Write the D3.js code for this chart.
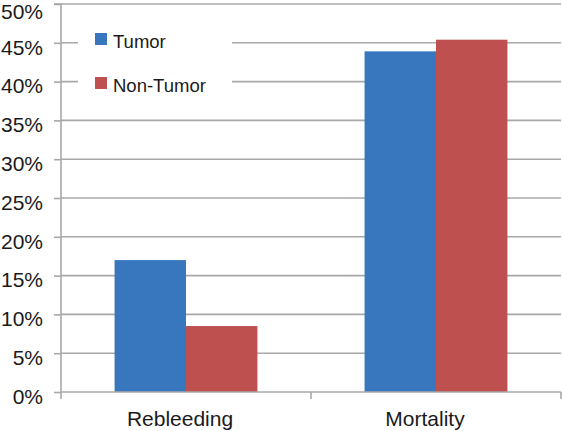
<!DOCTYPE html>
<html><head><meta charset="utf-8">
<script src="https://cdn.jsdelivr.net/npm/d3@7"></script>
<style>html,body{margin:0;padding:0;background:#fff;}</style>
</head><body>
<svg id="c" width="562" height="431"></svg>
<script>
const categories = ["Rebleeding", "Mortality"];
const seriesNames = ["Tumor", "Non-Tumor"];
const tumorValues = [17.0, 43.9];
const nonTumorValues = [8.5, 45.4];
const yTicks = [0, 5, 10, 15, 20, 25, 30, 35, 40, 45, 50];
const colors = ["#3877be", "#be514f"];

(function () {
const svg = d3.select("#c");
const pl = 61, pr = 561, pt = 4, pb = 392;
const font = "Liberation Sans, Arial, Helvetica, sans-serif";
const grid = "#a8a8a8";

const x = d3.scaleBand().domain(categories).range([pl, pr]);
const xs = d3.scaleBand().domain(seriesNames).range([0, x.bandwidth()]).paddingInner(0).paddingOuter(0.75);
const y = d3.scaleLinear().domain([0, 50]).range([pb, pt]);

// gridlines
svg.append("g").selectAll("line").data(yTicks.filter(d => d > 0)).join("line")
  .attr("x1", pl).attr("x2", pr)
  .attr("y1", d => y(d)).attr("y2", d => y(d))
  .attr("stroke", grid).attr("stroke-width", 1.6);

// y axis
const yAxis = d3.axisLeft(y).tickValues(yTicks).tickFormat(d => d + "%").tickSize(7).tickPadding(11);
const gy = svg.append("g").attr("transform", `translate(${pl},0)`).call(yAxis);
gy.select(".domain").attr("stroke", grid).attr("stroke-width", 1.6).attr("d", `M-7,${pt}H0V${pb}`);
gy.selectAll(".tick line").attr("stroke", grid).attr("stroke-width", 1.6);
gy.selectAll(".tick text").attr("font-family", font).attr("font-size", 21).attr("fill", "#1a1a1a")
  .attr("y", d => d === 50 ? 7 : 4).attr("dy", "0.35em");

// bars
const data = categories.map((c, i) => ({cat: c, vals: [tumorValues[i], nonTumorValues[i]]}));
const groups = svg.append("g").selectAll("g").data(data).join("g")
  .attr("transform", d => `translate(${x(d.cat)},0)`);
groups.selectAll("rect").data(d => d.vals.map((v, j) => ({s: seriesNames[j], v, j}))).join("rect")
  .attr("x", d => xs(d.s)).attr("width", xs.bandwidth())
  .attr("y", d => y(d.v)).attr("height", d => pb - y(d.v))
  .attr("fill", d => colors[d.j]);

// x axis
const xAxis = d3.axisBottom(x).tickSize(0).tickPadding(0);
const gx = svg.append("g").attr("transform", `translate(0,${pb})`).call(xAxis);
gx.select(".domain").attr("stroke", grid).attr("stroke-width", 1.6).attr("d", `M${pl},0H${pr}`);
const labelShift = [-6, -11];
gx.selectAll(".tick text").attr("font-family", font).attr("font-size", 21).attr("fill", "#1a1a1a")
  .attr("y", 34).attr("dy", 0).attr("dx", (d, i) => labelShift[i]);
// boundary ticks
const bounds = [pl, ...categories.map(c => x(c) + x.bandwidth())];
svg.append("g").selectAll("line").data(bounds).join("line")
  .attr("x1", d => d).attr("x2", d => d).attr("y1", pb).attr("y2", pb + 7)
  .attr("stroke", grid).attr("stroke-width", 1.6);

// legend
svg.append("rect").attr("x", 78).attr("y", 20).attr("width", 154).attr("height", 82).attr("fill", "#fff");
const lg = svg.append("g").selectAll("g").data(seriesNames).join("g")
  .attr("transform", (d, i) => `translate(95,${33 + i * 44})`);
lg.append("rect").attr("width", 12).attr("height", 12).attr("fill", (d, i) => colors[i]);
lg.append("text").attr("x", 18).attr("y", 14.5).text(d => d)
  .attr("font-family", font).attr("font-size", 18.5).attr("fill", "#1a1a1a");
})();
</script>
</body></html>
